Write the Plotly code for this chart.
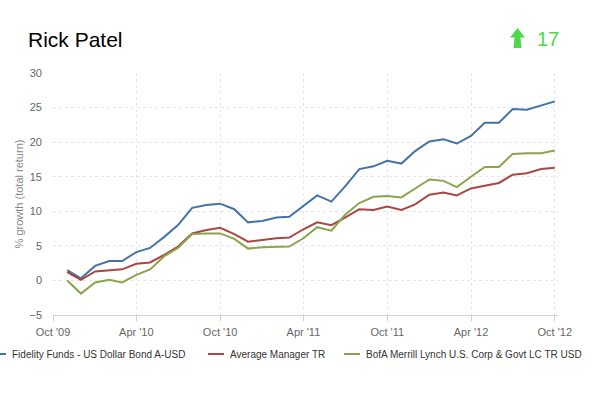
import plotly.graph_objects as go

# ---------------- data ----------------
months = [
    "2009-11-01", "2009-12-01", "2010-01-01", "2010-02-01", "2010-03-01", "2010-04-01",
    "2010-05-01", "2010-06-01", "2010-07-01", "2010-08-01", "2010-09-01", "2010-10-01",
    "2010-11-01", "2010-12-01", "2011-01-01", "2011-02-01", "2011-03-01", "2011-04-01",
    "2011-05-01", "2011-06-01", "2011-07-01", "2011-08-01", "2011-09-01", "2011-10-01",
    "2011-11-01", "2011-12-01", "2012-01-01", "2012-02-01", "2012-03-01", "2012-04-01",
    "2012-05-01", "2012-06-01", "2012-07-01", "2012-08-01", "2012-09-01", "2012-10-01",
]
fund = [1.5, 0.3, 2.1, 2.8, 2.8, 4.1, 4.7, 6.3, 8.0, 10.5, 10.9, 11.1,
        10.3, 8.4, 8.6, 9.1, 9.2, 10.8, 12.3, 11.4, 13.6, 16.1, 16.5, 17.3,
        16.9, 18.7, 20.1, 20.4, 19.8, 20.9, 22.8, 22.8, 24.8, 24.7, 25.3, 25.9]
avg_manager = [1.2, 0.1, 1.3, 1.5, 1.6, 2.4, 2.6, 3.7, 4.9, 6.8, 7.3, 7.6,
               6.7, 5.6, 5.9, 6.1, 6.2, 7.4, 8.4, 8.0, 9.1, 10.3, 10.2, 10.7,
               10.2, 11.0, 12.4, 12.7, 12.3, 13.3, 13.7, 14.1, 15.3, 15.5, 16.1, 16.3]
benchmark = [0.0, -1.9, -0.3, 0.1, -0.3, 0.8, 1.6, 3.5, 4.7, 6.7, 6.8, 6.8,
             6.0, 4.6, 4.8, 4.9, 4.9, 6.1, 7.7, 7.2, 9.5, 11.2, 12.1, 12.2,
             12.0, 13.3, 14.6, 14.4, 13.5, 15.0, 16.4, 16.4, 18.3, 18.4, 18.4, 18.8]
series_names = ["Fidelity Funds - US Dollar Bond A-USD", "Average Manager TR",
                "BofA Merrill Lynch U.S. Corp & Govt LC TR USD"]
series_values = [fund, avg_manager, benchmark]
title_text = "Rick Patel"
score_text = "17"
y_title = "% growth (total return)"

# ---------------- style ----------------
colors = ["#4572A7", "#AA4643", "#89A54E"]
FONT = "Liberation Sans, Arial, sans-serif"
W, H = 600, 393
ML, MR, MT, MB = 53, 42, 73, 78
PW, PH = W - ML - MR, H - MT - MB


def px(x):
    """page pixel x -> paper fraction"""
    return (x - ML) / PW


def py(y):
    """page pixel y -> paper fraction"""
    return (H - MB - y) / PH


fig = go.Figure()
for name, vals, col in zip(series_names, series_values, colors):
    fig.add_trace(go.Scatter(x=months, y=vals, name=name, mode="lines",
                             line=dict(color=col, width=2), showlegend=False))

annotations = [
    dict(text=title_text, x=px(27), y=py(39), xref="paper", yref="paper",
         xanchor="left", yanchor="middle", showarrow=False, borderpad=0,
         font=dict(family=FONT, size=21, color="#000000")),
    dict(text=score_text, x=px(536), y=py(39), xref="paper", yref="paper",
         xanchor="left", yanchor="middle", showarrow=False, borderpad=0,
         font=dict(family=FONT, size=20, color="#4ED84A")),
]
shapes = []

# arrow icon
ax = [517.5, 510, 514.5, 513.5, 521.5, 520.5, 525]
ay = [28, 37.5, 37.5, 48, 48, 37.5, 37.5]
path = "M " + " L ".join(f"{px(a):.5f},{py(b):.5f}" for a, b in zip(ax, ay)) + " Z"
shapes.append(dict(type="path", path=path, xref="paper", yref="paper",
                   fillcolor="#4ED84A", line=dict(width=0)))

# custom legend (overflowing on the left like the original)
leg_y = py(354)
sym_x = [(-10, 6), (208, 224), (344, 360)]
txt_x = [11, 229, 365]
for (s0, s1), tx, name, col in zip(sym_x, txt_x, series_names, colors):
    shapes.append(dict(type="line", xref="paper", yref="paper", x0=px(s0), x1=px(s1),
                       y0=leg_y, y1=leg_y, line=dict(color=col, width=2)))
    annotations.append(dict(text=name, x=px(tx), y=leg_y, xref="paper", yref="paper",
                            xanchor="left", yanchor="middle", showarrow=False, borderpad=0,
                            font=dict(family=FONT, size=10, color="#333333")))

fig.update_layout(
    width=W, height=H,
    margin=dict(l=ML, r=MR, t=MT, b=MB, autoexpand=False),
    paper_bgcolor="white", plot_bgcolor="white",
    font=dict(family=FONT, size=11, color="#666666"),
    showlegend=False,
    annotations=annotations, shapes=shapes,
    xaxis=dict(type="date", range=["2009-10-01", "2012-10-08"],
               tick0="2009-10-01", dtick="M6", tickformat="%b '%y",
               showgrid=True, gridcolor="#e6e6e6", griddash="dot", gridwidth=1,
               showline=True, linecolor="#d0d0d0", linewidth=1,
               ticks="outside", ticklen=5, tickcolor="#d0d0d0",
               ticklabelstandoff=2,
               tickfont=dict(family=FONT, size=11, color="#666666"),
               zeroline=False, fixedrange=True),
    yaxis=dict(range=[-5, 30], dtick=5, tick0=0,
               showgrid=True, gridcolor="#e6e6e6", griddash="dot", gridwidth=1,
               showline=False, zeroline=False, ticks="",
               ticklabelstandoff=10,
               tickfont=dict(family=FONT, size=11, color="#666666"),
               title=dict(text=y_title, standoff=3,
                          font=dict(family=FONT, size=11, color="#888888")),
               fixedrange=True),
)

fig.write_html(
    "out.html",
    config={"displayModeBar": False, "staticPlot": True},
    post_script="document.body.style.margin='0px';document.body.style.overflow='hidden';",
)
